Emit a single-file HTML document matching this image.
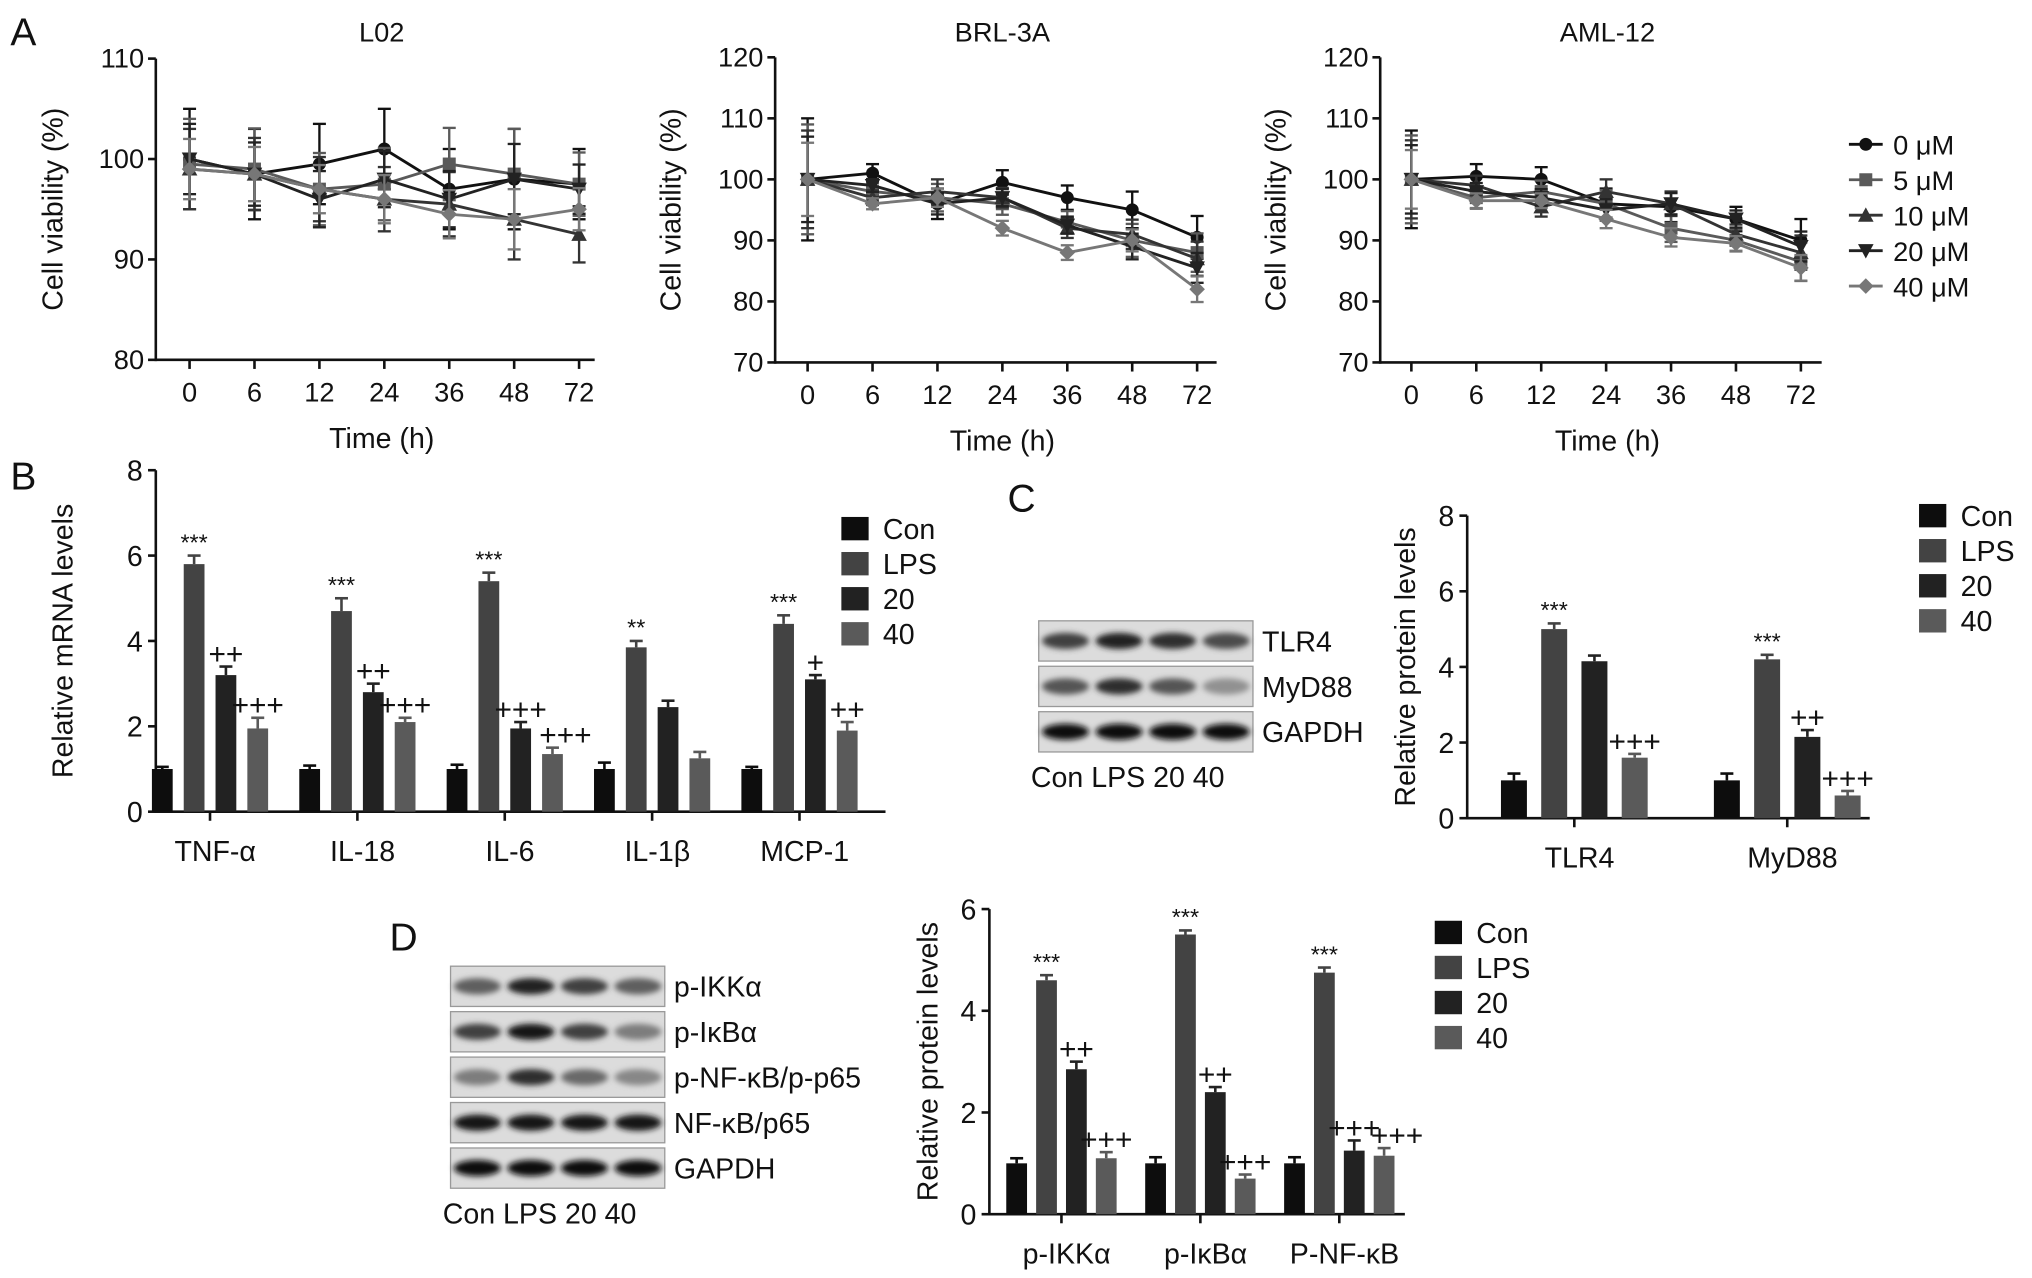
<!DOCTYPE html>
<html><head><meta charset="utf-8">
<style>
html,body{margin:0;padding:0;background:#fff;}
svg{display:block;}
text{font-family:"Liberation Sans",sans-serif;fill:#111;}
.n{font-family:"Liberation Sans Narrow","Liberation Sans",sans-serif;}
</style></head>
<body>
<svg id="fig" width="2032" height="1278" viewBox="0 0 1565 984" xmlns="http://www.w3.org/2000/svg">
<defs>
<filter id="blur" x="-30%" y="-60%" width="160%" height="220%"><feGaussianBlur stdDeviation="2.2"/></filter>
</defs>
</svg>
<script>
// ---------- Panel A data ----------
const timeLabels = ["0","6","12","24","36","48","72"];
const doseNames = ["0 μM","5 μM","10 μM","20 μM","40 μM"];
const l02_0 = [100,98.5,99.5,101,97,98,97.5];
const l02_5 = [99.5,99,97,97.5,99.5,98.5,97.5];
const l02_10 = [99,98.5,97,96,95.5,94,92.5];
const l02_20 = [100,98.5,96,98,96,98,97];
const l02_40 = [99,98.5,97,96,94.5,94,95];
const l02_err = [5,4.5,4,4,4,5,3.5];
const brl_0 = [100,101,96,99.5,97,95,90.5];
const brl_5 = [100,98,97,96,93,90,88];
const brl_10 = [100,97,98,97,92,91,87];
const brl_20 = [100,99,96,97,92.5,89,85.5];
const brl_40 = [100,96,97,92,88,90,82];
const brl_err = [10,1.5,2.5,2,2,3,3.5];
const aml_0 = [100,100.5,100,96,95.5,93.5,90];
const aml_5 = [100,97,98,96,92,90,86.5];
const aml_10 = [100,99,95.5,98,96,91,88];
const aml_20 = [100,98,97,95,96,93.5,89];
const aml_40 = [100,96.5,96.5,93.5,90.5,89.5,85.5];
const aml_err = [8,2,2,2.5,2.5,2,3.5];
// ---------- Panel B data ----------
const bCats = ["TNF-α","IL-18","IL-6","IL-1β","MCP-1"];
const bCon = [1,1,1,1,1];
const bLPS = [5.8,4.7,5.4,3.85,4.4];
const b20 = [3.2,2.8,1.95,2.45,3.1];
const b40 = [1.95,2.1,1.35,1.25,1.9];
const bErr = [[0.05,0.2,0.2,0.25],[0.08,0.3,0.2,0.1],[0.1,0.2,0.15,0.15],[0.15,0.15,0.15,0.15],[0.05,0.2,0.1,0.2]];
const bAnn = [["","***","++","+++"],["","***","++","+++"],["","***","+++","+++"],["","**","",""],["","***","+","++"]];
// ---------- Panel C data ----------
const cCats = ["TLR4","MyD88"];
const cCon = [1,1];
const cLPS = [5.0,4.2];
const c20 = [4.15,2.15];
const c40 = [1.6,0.6];
const cErr = [[0.18,0.15,0.15,0.1],[0.18,0.12,0.18,0.12]];
const cAnn = [["","***","","+++"],["","***","++","+++"]];
// ---------- Panel D data ----------
const dCats = ["p-IKKα","p-IκBα","P-NF-κB"];
const dCon = [1,1,1];
const dLPS = [4.6,5.5,4.75];
const d20 = [2.85,2.4,1.25];
const d40 = [1.1,0.7,1.15];
const dErr = [[0.1,0.1,0.15,0.12],[0.12,0.08,0.1,0.08],[0.12,0.1,0.2,0.15]];
const dAnn = [["","***","++","+++"],["","***","++","+++"],["","***","+++","+++"]];
const groupNames = ["Con","LPS","20","40"];
const barColors = ["#0d0d0d","#434343","#222222","#5a5a5a"];

const NS="http://www.w3.org/2000/svg";
const svg=document.getElementById('fig');
function el(tag,attrs,parent){const e=document.createElementNS(NS,tag);for(const k in attrs)e.setAttribute(k,attrs[k]);(parent||svg).appendChild(e);return e;}
function txt(s,x,y,size,attrs,parent){const t=el('text',Object.assign({x:x,y:y,'font-size':size},attrs||{}),parent);t.textContent=s;return t;}

[["A",8,35],["B",8,377],["C",776,394],["D",300,732]].forEach(p=>{
  const t=txt(p[0],p[1],p[2],30,{});
  
  
});

const lineColors=["#111","#5a5a5a","#333","#222","#777"];
const markers=["circle","square","tri","tridown","diamond"];
function marker(kind,x,y,c,g){
  const s=5;
  if(kind==="circle") return el('circle',{cx:x,cy:y,r:s,fill:c},g);
  if(kind==="square") return el('rect',{x:x-s,y:y-s,width:2*s,height:2*s,fill:c},g);
  if(kind==="tri") return el('polygon',{points:`${x},${y-s-1} ${x-s-1},${y+s} ${x+s+1},${y+s}`,fill:c},g);
  if(kind==="tridown") return el('polygon',{points:`${x},${y+s+1} ${x-s-1},${y-s} ${x+s+1},${y-s}`,fill:c},g);
  return el('polygon',{points:`${x},${y-s-1} ${x+s+1},${y} ${x},${y+s+1} ${x-s-1},${y}`,fill:c},g);
}
function lineChart(cfg){
  const g=el('g',{});
  
  
  const y=v=>cfg.y0-(v-cfg.vmin)/(cfg.vmax-cfg.vmin)*(cfg.y0-cfg.y1);
  const x=i=>cfg.xs+i*cfg.dx;
  el('line',{x1:cfg.ax,y1:cfg.y1,x2:cfg.ax,y2:cfg.y0+1,stroke:'#111','stroke-width':2},g);
  el('line',{x1:cfg.ax,y1:cfg.y0,x2:cfg.axEnd,y2:cfg.y0,stroke:'#111','stroke-width':2},g);
  for(let v=cfg.vmin;v<=cfg.vmax;v+=10){
    el('line',{x1:cfg.ax-6,y1:y(v),x2:cfg.ax,y2:y(v),stroke:'#111','stroke-width':2},g);
    const t=txt(String(v),cfg.ax-9,y(v)+7,21,{'text-anchor':'end',class:'n'},g);
    
    
  }
  timeLabels.forEach((l,i)=>{
    el('line',{x1:x(i),y1:cfg.y0,x2:x(i),y2:cfg.y0+7,stroke:'#111','stroke-width':2},g);
    const t=txt(l,x(i),cfg.y0+32,21,{'text-anchor':'middle',class:'n'},g);
    
    
  });
  const tt=txt(cfg.title,(cfg.ax+cfg.axEnd)/2+5,32,21,{'text-anchor':'middle',class:'n'},g);
  
  
  const xl=txt("Time (h)",(cfg.ax+cfg.axEnd)/2+5,cfg.y0+68,22,{'text-anchor':'middle',class:'n'},g);
  
  
  const cy=(cfg.y0+cfg.y1)/2;
  const yl=txt("Cell viability (%)",cfg.ylx,cy,22,{'text-anchor':'middle',transform:`rotate(-90 ${cfg.ylx} ${cy})`},g);
  
  
  cfg.series.forEach((s,si)=>{
    const c=lineColors[si];
    const sg=el('g',{},g);
    
    
    s.forEach((v,i)=>{
      const e=cfg.err[i]*(1-si*0.1);
      el('line',{x1:x(i),y1:y(v-e),x2:x(i),y2:y(v+e),stroke:c,'stroke-width':1.8},sg);
      el('line',{x1:x(i)-5,y1:y(v-e),x2:x(i)+5,y2:y(v-e),stroke:c,'stroke-width':1.8},sg);
      el('line',{x1:x(i)-5,y1:y(v+e),x2:x(i)+5,y2:y(v+e),stroke:c,'stroke-width':1.8},sg);
    });
    el('polyline',{points:s.map((v,i)=>x(i)+','+y(v)).join(' '),fill:'none',stroke:c,'stroke-width':2.2},sg);
    s.forEach((v,i)=>marker(markers[si],x(i),y(v),c,sg));
  });
}
lineChart({name:'chart-l02',title:'L02',ax:120,axEnd:458,y0:277,y1:45,vmin:80,vmax:110,xs:146,dx:50,ylx:48,series:[l02_0,l02_5,l02_10,l02_20,l02_40],err:l02_err});
lineChart({name:'chart-brl3a',title:'BRL-3A',ax:597,axEnd:937,y0:279,y1:44,vmin:70,vmax:120,xs:622,dx:50,ylx:524,series:[brl_0,brl_5,brl_10,brl_20,brl_40],err:brl_err});
lineChart({name:'chart-aml12',title:'AML-12',ax:1063,axEnd:1403,y0:279,y1:44,vmin:70,vmax:120,xs:1087,dx:50,ylx:990,series:[aml_0,aml_5,aml_10,aml_20,aml_40],err:aml_err});
doseNames.forEach((n,i)=>{
  const g=el('g',{});
  
  
  const yy=111+i*27.3;
  el('line',{x1:1424,y1:yy,x2:1450,y2:yy,stroke:lineColors[i],'stroke-width':2.2},g);
  marker(markers[i],1437,yy,lineColors[i],g);
  txt(n,1458,yy+8,21,{class:'n'},g);
});

function barChart(cfg){
  const g=el('g',{});
  
  
  const y=v=>cfg.y0-v/cfg.vmax*(cfg.y0-cfg.y1);
  el('line',{x1:cfg.ax,y1:cfg.y1,x2:cfg.ax,y2:cfg.y0+1,stroke:'#111','stroke-width':2},g);
  el('line',{x1:cfg.ax,y1:cfg.y0,x2:cfg.axEnd,y2:cfg.y0,stroke:'#111','stroke-width':2},g);
  for(let v=0;v<=cfg.vmax;v+=2){
    el('line',{x1:cfg.ax-6,y1:y(v),x2:cfg.ax,y2:y(v),stroke:'#111','stroke-width':2},g);
    const t=txt(String(v),cfg.ax-10,y(v)+8,22,{'text-anchor':'end',class:'n'},g);
    
    
  }
  const cy=(cfg.y0+cfg.y1)/2;
  const yl=txt(cfg.ylabel,cfg.ylx,cy,22,{'text-anchor':'middle',transform:`rotate(-90 ${cfg.ylx} ${cy})`},g);
  
  
  cfg.cats.forEach((c,ci)=>{
    const gx=cfg.gx0+ci*cfg.gstep;
    const cx=gx+1.5*cfg.bstep;
    el('line',{x1:cx,y1:cfg.y0,x2:cx,y2:cfg.y0+7,stroke:'#111','stroke-width':2},g);
    const t=txt(c,cx+4,cfg.y0+38,22,{'text-anchor':'middle',class:'n'},g);
    
    
    cfg.series.forEach((s,si)=>{
      const v=s[ci];const bx=gx+si*cfg.bstep;const e=cfg.err[ci][si];
      const b=el('rect',{x:bx-cfg.bw/2,y:y(v),width:cfg.bw,height:cfg.y0-y(v),fill:barColors[si]},g);
      
      
      el('line',{x1:bx,y1:y(v),x2:bx,y2:y(v+e),stroke:barColors[si],'stroke-width':2},g);
      el('line',{x1:bx-5,y1:y(v+e),x2:bx+5,y2:y(v+e),stroke:barColors[si],'stroke-width':2},g);
      const a=cfg.ann[ci][si];
      if(a){
        const star=a[0]==='*';
        const shift=(!star && si===3 && cfg.ann[ci][2].length===3)?10:0;
        const at=txt(a,bx+shift,y(v+e)-(star?4:2),star?18:23,{'text-anchor':'middle',class:'n'},g);
        
        
      }
    });
  });
  groupNames.forEach((n,i)=>{
    const lg=el('g',{},g);
    
    
    const yy=cfg.ly+i*cfg.lstep;
    el('rect',{x:cfg.lx,y:yy-9,width:21,height:18,fill:barColors[i]},lg);
    txt(n,cfg.lx+32,yy+8,22,{class:'n'},lg);
  });
}
barChart({name:'chart-mrna',cats:bCats,series:[bCon,bLPS,b20,b40],err:bErr,ann:bAnn,ax:120,axEnd:682,y0:625,y1:362,vmax:8,gx0:125,gstep:113.5,bstep:24.5,bw:16,ylabel:'Relative mRNA levels',ylx:56,lx:648,ly:407,lstep:27});
barChart({name:'chart-protein-c',cats:cCats,series:[cCon,cLPS,c20,c40],err:cErr,ann:cAnn,ax:1130,axEnd:1440,y0:630,y1:397,vmax:8,gx0:1166,gstep:164,bstep:31,bw:20,ylabel:'Relative protein levels',ylx:1090,lx:1478,ly:397,lstep:27});
barChart({name:'chart-protein-d',cats:dCats,series:[dCon,dLPS,d20,d40],err:dErr,ann:dAnn,ax:762,axEnd:1082,y0:935,y1:700,vmax:6,gx0:783,gstep:107,bstep:23,bw:16,ylabel:'Relative protein levels',ylx:722,lx:1105,ly:718,lstep:27});

function blot(cfg){
  const g=el('g',{});
  
  
  cfg.rows.forEach((r,ri)=>{
    const yy=cfg.y+ri*cfg.rh;
    const rg=el('g',{},g);
    
    
    el('rect',{x:cfg.x,y:yy,width:cfg.w,height:cfg.rh-4,fill:'#dcdcdc',stroke:'#999','stroke-width':1},rg);
    const lw=cfg.w/4;
    r.ints.forEach((it,li)=>{
      const gray=Math.round(215-it*200);
      el('ellipse',{cx:cfg.x+lw*(li+0.5),cy:yy+(cfg.rh-4)/2,rx:lw*0.44,ry:(cfg.rh-4)*0.2,fill:`rgb(${gray},${gray},${gray})`,filter:'url(#blur)'},rg);
    });
    const t=txt(r.label,cfg.x+cfg.w+7,yy+(cfg.rh-4)/2+8,22,{class:'n'},rg);
    
    
  });
  const lt=txt("Con LPS 20 40",cfg.x-6,cfg.y+cfg.rows.length*cfg.rh+23,22,{class:'n'},g);
  
  
}
blot({name:'blot-c',x:800,y:478,w:165,rh:35,rows:[
  {label:'TLR4',ints:[0.75,0.9,0.85,0.7]},
  {label:'MyD88',ints:[0.65,0.85,0.65,0.35]},
  {label:'GAPDH',ints:[1,1,1,1]}]});
blot({name:'blot-d',x:347,y:744,w:165,rh:35,rows:[
  {label:'p-IKKα',ints:[0.6,0.9,0.75,0.6]},
  {label:'p-IκBα',ints:[0.75,0.95,0.75,0.45]},
  {label:'p-NF-κB/p-p65',ints:[0.45,0.85,0.55,0.4]},
  {label:'NF-κB/p65',ints:[0.95,0.95,0.95,0.95]},
  {label:'GAPDH',ints:[1,1,1,1]}]});
</script>
</body></html>
